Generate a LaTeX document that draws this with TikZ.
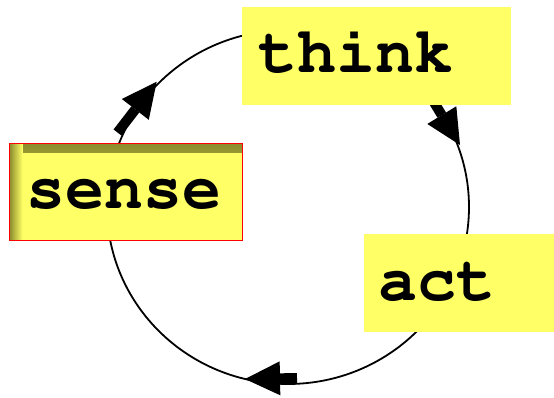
\documentclass[tikz,border=0pt]{standalone}
\usepackage[T1]{fontenc}
\usetikzlibrary{arrows.meta}
\definecolor{boxyellow}{RGB}{255,255,102}
\definecolor{shadowolive}{RGB}{140,140,45}
\tikzset{
  panel/.style={rectangle, fill=boxyellow, anchor=north west, inner ysep=0pt,
    align=left, font=\fontfamily{pcr}\fontseries{b}\fontsize{65}{65}\selectfont},
  flow/.style={line width=10pt, -{Triangle[length=35pt,width=34pt,line width=0pt]}},
  ring/.style={line width=1.8pt}
}
\begin{document}
\begin{tikzpicture}[x=1pt,y=-1pt]
  \useasboundingbox (0,0) rectangle (554,397);

  % the cycle
  \coordinate (centre) at (288,207);
  \draw[ring] (centre) ellipse [x radius=181pt, y radius=177pt];

  % direction markers on the cycle
  \coordinate (m1a) at (117.5,132.5);
  \coordinate (m1b) at (156.7,81.7);
  \coordinate (m2a) at (432,99);
  \coordinate (m2b) at (460,145);
  \coordinate (m3a) at (297,378);
  \coordinate (m3b) at (245,379);
  \draw[flow] (m1a) -- (m1b);
  \draw[flow] (m2a) -- (m2b);
  \draw[flow] (m3a) -- (m3b);

  % the three stages
  \node[panel, inner xsep=17.4pt, text width=198.2pt, text height=65pt, text depth=31.7pt,
    path picture={
      \shade[top color=shadowolive, bottom color=boxyellow]
        (path picture bounding box.north west) rectangle ([yshift=-9pt]path picture bounding box.north east);
      \shade[left color=shadowolive, right color=boxyellow]
        (path picture bounding box.north west) rectangle ([xshift=13pt]path picture bounding box.south west);
    }] (sense) at (9.3,143.3) {sense};
  \draw[red, line width=1.5pt] (sense.north west) rectangle (sense.south east);

  \node[panel, inner xsep=16.5pt, text width=236pt, text height=66pt, text depth=31.6pt]
    (think) at (242,6.7) {think};

  \node[panel, inner xsep=15pt, text width=166.7pt, text height=66pt, text depth=31.7pt]
    (act) at (363.3,234) {act};
\end{tikzpicture}
\end{document}
